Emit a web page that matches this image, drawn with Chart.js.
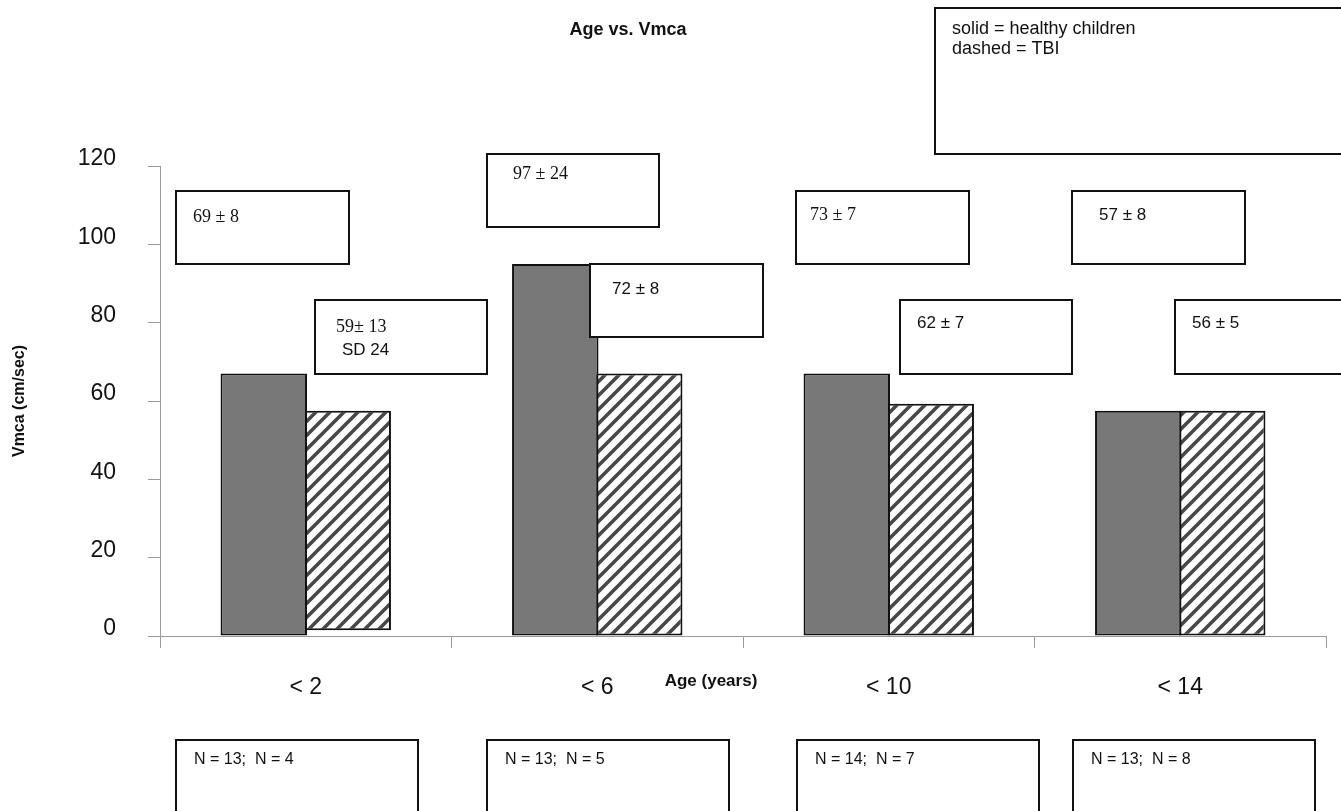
<!DOCTYPE html>
<html>
<head>
<meta charset="utf-8">
<script src="https://cdn.jsdelivr.net/npm/chart.js@4.4.1/dist/chart.umd.min.js"></script>
<style>
html,body{margin:0;padding:0;background:#fff;}
#c{display:block;}
</style>
</head>
<body>
<canvas id="c" width="1341" height="811"></canvas>
<script>
// ---- data ----
const categories = ['< 2', '< 6', '< 10', '< 14'];
const healthyValues = [67, 95, 67, 57.5];
const tbiValues = [57.5, 67, 59.3, 57.5];
const tbiBase = [1.5, 0, 0, 0];
const yTicks = [0, 20, 40, 60, 80, 100, 120];
const healthyLabels = ['69 ± 8', '97 ± 24', '73 ± 7', '57 ± 8'];
const tbiLabels = ['59± 13', '72 ± 8', '62 ± 7', '56 ± 5'];
const nLabels = ['N = 13;  N = 4', 'N = 13;  N = 5', 'N = 14;  N = 7', 'N = 13;  N = 8'];
const legendLines = ['solid = healthy children', 'dashed = TBI'];

// hatch pattern
function makeHatch() {
  const s = 14;
  const pc = document.createElement('canvas');
  pc.width = s; pc.height = s;
  const p = pc.getContext('2d');
  p.fillStyle = '#ffffff';
  p.fillRect(0, 0, s, s);
  p.strokeStyle = '#474747';
  p.lineWidth = 3.6;
  p.lineCap = 'square';
  p.beginPath();
  p.moveTo(-2, s + 2); p.lineTo(s + 2, -2);
  p.moveTo(-s / 2 - 2, s / 2 + 2); p.lineTo(s / 2 + 2, -s / 2 - 2);
  p.moveTo(s / 2 - 2, s * 1.5 + 2); p.lineTo(s * 1.5 + 2, s / 2 - 2);
  p.stroke();
  return document.getElementById('c').getContext('2d').createPattern(pc, 'repeat');
}
const hatch = makeHatch();

function box(ctx, x1, y1, x2, y2) {
  ctx.save();
  ctx.fillStyle = '#fff';
  ctx.fillRect(x1, y1, x2 - x1, y2 - y1);
  ctx.strokeStyle = '#111';
  ctx.lineWidth = 2;
  ctx.strokeRect(x1, y1, x2 - x1, y2 - y1);
  ctx.restore();
}
function txt(ctx, s, x, y, font, align) {
  ctx.save();
  ctx.font = font;
  ctx.fillStyle = '#111';
  ctx.textAlign = align || 'left';
  ctx.textBaseline = 'middle';
  ctx.fillText(s, x, y);
  ctx.restore();
}

const SERIF = '18px "Liberation Serif", "Times New Roman", serif';
const SANS = '17px "Liberation Sans", Arial, sans-serif';
const NARROW = '16px "Liberation Sans Narrow", "Liberation Sans", Arial, sans-serif';

const annotations = {
  id: 'annotations',
  afterDraw(chart) {
    const ctx = chart.ctx;
    // title
    txt(ctx, 'Age vs. Vmca', 628, 30, 'bold 18px "Liberation Sans", Arial, sans-serif', 'center');
    // x axis title
    txt(ctx, 'Age (years)', 711, 681, 'bold 17px "Liberation Sans", Arial, sans-serif', 'center');

    // legend box
    box(ctx, 935, 8, 1350, 154);
    txt(ctx, legendLines[0], 952, 29, '18px "Liberation Sans", Arial, sans-serif');
    txt(ctx, legendLines[1], 952, 49, '18px "Liberation Sans", Arial, sans-serif');

    // healthy label boxes
    box(ctx, 176, 191, 349, 264); txt(ctx, healthyLabels[0], 193, 217, SERIF);
    box(ctx, 487, 154, 659, 227); txt(ctx, healthyLabels[1], 513, 174, SERIF);
    box(ctx, 796, 191, 969, 264); txt(ctx, healthyLabels[2], 810, 215, SERIF);
    box(ctx, 1072, 191, 1245, 264); txt(ctx, healthyLabels[3], 1099, 215, SANS);

    // TBI label boxes
    box(ctx, 315, 300, 487, 374); txt(ctx, tbiLabels[0], 336, 327, SERIF); txt(ctx, 'SD 24', 342, 350, SANS);
    box(ctx, 590, 264, 763, 337); txt(ctx, tbiLabels[1], 612, 289, SANS);
    box(ctx, 900, 300, 1072, 374); txt(ctx, tbiLabels[2], 917, 323, SANS);
    box(ctx, 1175, 300, 1350, 374); txt(ctx, tbiLabels[3], 1192, 323, SANS);

    // N boxes
    const nx = [[176, 418], [487, 729], [797, 1039], [1073, 1315]];
    nx.forEach((b, i) => {
      box(ctx, b[0], 740, b[1], 830);
      txt(ctx, nLabels[i], b[0] + 18, 760, NARROW);
    });
  }
};

new Chart(document.getElementById('c'), {
  type: 'bar',
  data: {
    labels: categories,
    datasets: [
      {
        label: 'healthy children',
        data: healthyValues,
        backgroundColor: '#787878',
        borderColor: '#111',
        borderWidth: 2,
        borderSkipped: false,
        categoryPercentage: 0.576,
        barPercentage: 1.03
      },
      {
        label: 'TBI',
        data: tbiValues.map((v, i) => [tbiBase[i], v]),
        backgroundColor: hatch,
        borderColor: '#111',
        borderWidth: 2,
        borderSkipped: false,
        categoryPercentage: 0.576,
        barPercentage: 1.03
      }
    ]
  },
  options: {
    responsive: false,
    animation: false,
    devicePixelRatio: 1,
    layout: { padding: { top: 166, right: 15, left: 0, bottom: 0 } },
    plugins: {
      legend: { display: false },
      title: { display: false },
      tooltip: { enabled: false }
    },
    scales: {
      x: {
        type: 'category',
        offset: true,
        grid: { offset: true, drawOnChartArea: false, drawTicks: true, tickLength: 12, color: '#9a9a9a', lineWidth: 1 },
        border: { display: true, color: '#9a9a9a', width: 1 },
        ticks: { color: '#111', font: { family: '"Liberation Sans", Arial, sans-serif', size: 23 }, padding: 26, maxRotation: 0 },
        afterFit(scale) { scale.height = 175; }
      },
      y: {
        min: 0, max: 120,
        afterBuildTicks(scale) { scale.ticks = yTicks.map(v => ({ value: v })); },
        grid: { drawOnChartArea: false, drawTicks: true, tickLength: 12, color: '#9a9a9a', lineWidth: 1 },
        border: { display: true, color: '#9a9a9a', width: 1 },
        ticks: { color: '#111', font: { family: '"Liberation Sans", Arial, sans-serif', size: 23 }, padding: 32, labelOffset: -7 },
        title: { display: true, text: 'Vmca (cm/sec)', color: '#111', font: { family: '"Liberation Sans", Arial, sans-serif', size: 16, weight: 'bold' }, padding: { top: 10, bottom: 0 } },
        afterFit(scale) { scale.width = 160; }
      }
    }
  },
  plugins: [annotations]
});
</script>
</body>
</html>
